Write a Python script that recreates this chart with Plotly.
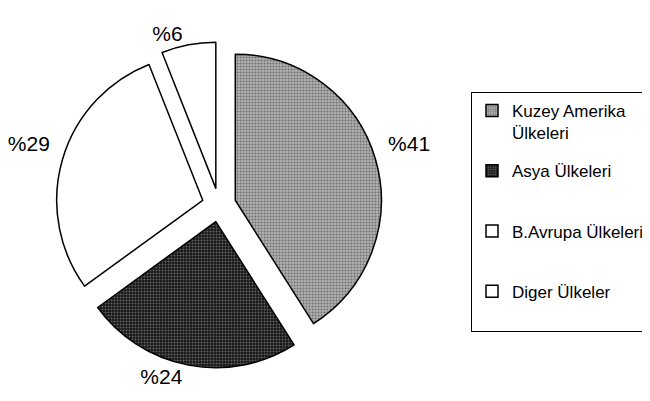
import plotly.graph_objects as go

labels = ["Kuzey Amerika Ülkeleri", "Asya Ülkeleri", "B.Avrupa Ülkeleri", "Diger Ülkeler"]
legend_labels = ["Kuzey Amerika<br>Ülkeleri", "Asya Ülkeleri<br> ", "B.Avrupa Ülkeleri<br> ", "Diger Ülkeler<br> "]
values = [41, 24, 29, 6]
colors = ["#b0b0b0", "#161616", "#ffffff", "#ffffff"]
dot_colors = ["#6e6e6e", "#646464", "#ffffff", "#ffffff"]
dot_shapes = [".", ".", "", ""]
pct_text = ["%" + str(v) for v in values]
# label templates (an empty second line lifts the side labels a little)
label_templates = ["%{text}<br>\u00a0", "%{text}", "%{text}<br>\u00a0", "%{text}"]

# page body adds an 8px offset, so the figure is drawn 8px smaller
W, H = 642, 393
cx, cy, half = 211, 197, 163

pattern = dict(shape=dot_shapes, fgcolor=dot_colors, bgcolor=colors,
               size=3, solidity=0.35, fillmode="replace")

fig = go.Figure()
fig.add_trace(go.Pie(
    labels=labels, values=values, text=pct_text,
    texttemplate=label_templates, textposition="outside",
    outsidetextfont=dict(family="Liberation Sans, Arial", size=21, color="black"),
    sort=False, direction="clockwise", rotation=0,
    pull=[0.116] * 4,
    marker=dict(colors=colors, line=dict(color="black", width=1.5), pattern=pattern),
    domain=dict(x=[(cx - half) / W, (cx + half) / W],
                y=[(H - cy - half) / H, (H - cy + half) / H]),
    showlegend=False, hoverinfo="label+value", automargin=False,
))
for i, lab in enumerate(legend_labels):
    fig.add_trace(go.Bar(
        x=[None], y=[None], name=lab, legendgroup=str(i),
        marker=dict(color=colors[i], line=dict(color="black", width=1.5),
                    pattern=dict(shape=dot_shapes[i], fgcolor=dot_colors[i],
                                 bgcolor=colors[i], size=3, solidity=0.35,
                                 fillmode="replace")),
        showlegend=True,
    ))

fig.update_layout(
    width=W, height=H,
    margin=dict(l=0, r=0, t=0, b=0, autoexpand=False),
    paper_bgcolor="white", plot_bgcolor="white",
    xaxis=dict(visible=False), yaxis=dict(visible=False),
    legend=dict(
        x=1, xanchor="right", y=1 - 84 / H, yanchor="top",
        bordercolor="black", borderwidth=1,
        font=dict(family="Liberation Sans, Arial", size=17, color="black"),
        valign="top", tracegroupgap=13,
    ),
)
fig.write_html("out.html")
